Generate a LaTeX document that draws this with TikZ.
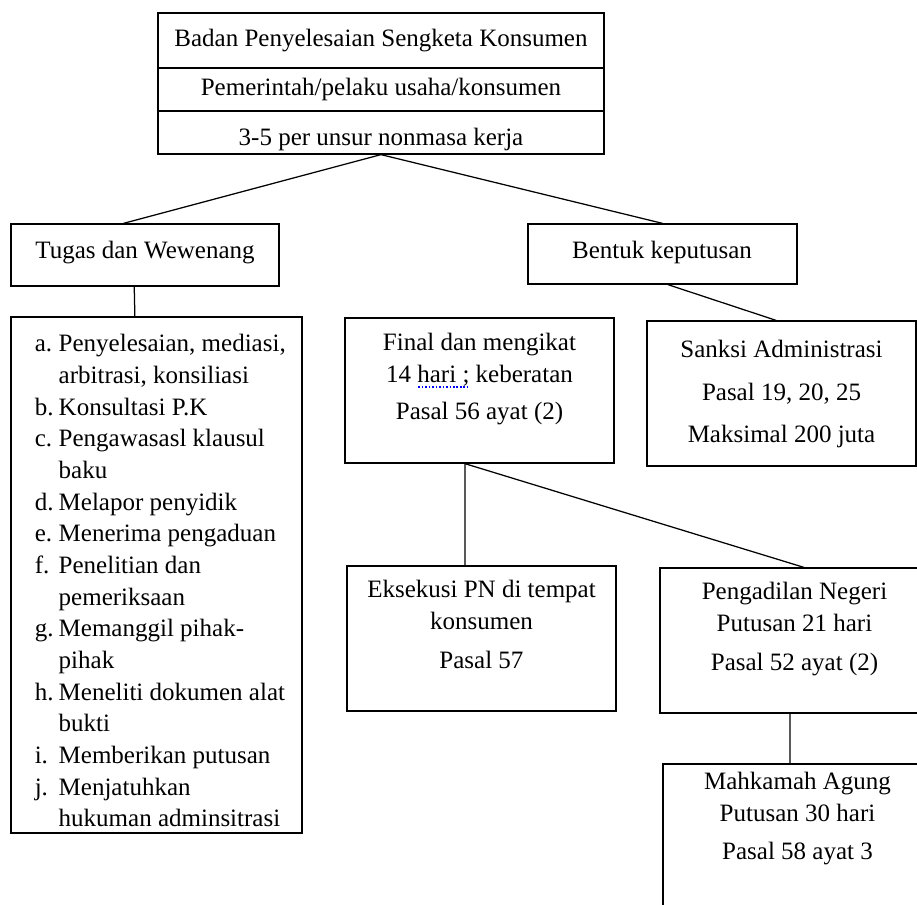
\documentclass[tikz,border=0pt]{standalone}
\usepackage{fontspec}
\setmainfont{Liberation Serif}
\usetikzlibrary{positioning,fit,calc}

\newsavebox{\kotakkata}
\newcommand{\salahketik}[1]{\sbox{\kotakkata}{#1}\rlap{\raisebox{-2.6pt}{\textcolor{blue}{\hbox to \wd\kotakkata{\xleaders\hbox to 1.6pt{\hss\rule{0.8pt}{0.7pt}\hss}\hfill}}}}\usebox{\kotakkata}}
\newcommand{\butir}[2]{\makebox[11.5pt][l]{#1}#2}
\newcommand{\lanjut}[1]{\hspace*{11.5pt}#1}

\begin{document}
\begin{tikzpicture}[x=0.48pt, y=-0.48pt,
  kotak/.style={draw, line width=0.6pt, inner sep=0pt},
  teks/.style={inner sep=0pt, align=center, font=\fontsize{12}{15.2}\selectfont},
  garis/.style={line width=0.6pt}]

\useasboundingbox (0,0) rectangle (917,905);
\clip (0,0) rectangle (917,905);

\node[kotak, fit={(158,13) (604,68)}] (judul) {};
\node[kotak, fit={(158,68) (604,111)}] (unsur) {};
\node[kotak, fit={(158,111) (604,154)}] (masa) {};
\node[teks, anchor=base] at (381,47) (isijudul) {Badan Penyelesaian Sengketa Konsumen};
\node[teks, anchor=base] at (381,96) (isiunsur) {Pemerintah/pelaku usaha/konsumen};
\node[teks, anchor=base] at (381,146) (isimasa) {3-5 per unsur nonmasa kerja};

\node[kotak, fit={(11,224) (279,286)}] (tugas) {};
\node[teks, anchor=base] at (145,259) (isitugas) {Tugas dan Wewenang};
\node[kotak, fit={(528,224) (797,284)}] (bentuk) {};
\node[teks, anchor=base] at (662,259) (isibentuk) {Bentuk keputusan};

\node[kotak, fit={(11,317) (302,833)}] (daftar) {};
\node[teks, align=left, anchor=north west] at ([xshift=11.5pt, yshift=-8.5pt]daftar.north west) (isidaftar) {%
\butir{a.}{Penyelesaian, mediasi,}\\
\lanjut{arbitrasi, konsiliasi}\\
\butir{b.}{Konsultasi P.K}\\
\butir{c.}{Pengawasasl klausul}\\
\lanjut{baku}\\
\butir{d.}{Melapor penyidik}\\
\butir{e.}{Menerima pengaduan}\\
\butir{f.}{Penelitian dan}\\
\lanjut{pemeriksaan}\\
\butir{g.}{Memanggil pihak-}\\
\lanjut{pihak}\\
\butir{h.}{Meneliti dokumen alat}\\
\lanjut{bukti}\\
\butir{i.}{Memberikan putusan}\\
\butir{j.}{Menjatuhkan}\\
\lanjut{hukuman adminsitrasi}};

\node[kotak, fit={(345,318) (614,463)}] (final) {};
\node[teks, anchor=north] at ([yshift=-7.4pt]final.north) (isifinal) {Final dan mengikat\\14 \salahketik{hari ;} keberatan\\[2.9pt]Pasal 56 ayat (2)};

\node[kotak, fit={(647,321) (916,466)}] (sanksi) {};
\node[teks, anchor=north] at ([yshift=-9.4pt]sanksi.north) (isisanksi) {Sanksi Administrasi\\[5.2pt]Pasal 19, 20, 25\\[5.2pt]Maksimal 200 juta};

\node[kotak, fit={(347,566) (616,711)}] (eksekusi) {};
\node[teks, anchor=north] at ([yshift=-7pt]eksekusi.north) (isieksekusi) {Eksekusi PN di tempat\\konsumen\\[3.8pt]Pasal 57};

\node[kotak, fit={(660,568) (929,713)}] (pengadilan) {};
\node[teks, anchor=north] at ([yshift=-7pt]pengadilan.north) (isipengadilan) {Pengadilan Negeri\\Putusan 21 hari\\[3.8pt]Pasal 52 ayat (2)};

\node[kotak, fit={(663,764) (932,915)}] (mahkamah) {};
\node[teks, anchor=north] at ([yshift=-4pt]mahkamah.north) (isimahkamah) {Mahkamah Agung\\Putusan 30 hari\\[3pt]Pasal 58 ayat 3};

\draw[garis] (masa.south) -- ($(tugas.north west)!0.42!(tugas.north east)$);
\draw[garis] (masa.south) -- (bentuk.north);
\draw[garis] ($(tugas.south west)!0.46!(tugas.south east)$) -- ($(daftar.north west)!0.426!(daftar.north east)$);
\draw[garis] ($(bentuk.south west)!0.52!(bentuk.south east)$) -- ($(sanksi.north west)!0.48!(sanksi.north east)$);
\draw[garis] ($(final.south west)!0.446!(final.south east)$) -- ($(eksekusi.north west)!0.439!(eksekusi.north east)$);
\draw[garis] ($(final.south west)!0.446!(final.south east)$) -- ($(pengadilan.north west)!0.535!(pengadilan.north east)$);
\draw[garis] ($(pengadilan.south west)!0.483!(pengadilan.south east)$) -- ($(mahkamah.north west)!0.472!(mahkamah.north east)$);

\end{tikzpicture}
\end{document}
